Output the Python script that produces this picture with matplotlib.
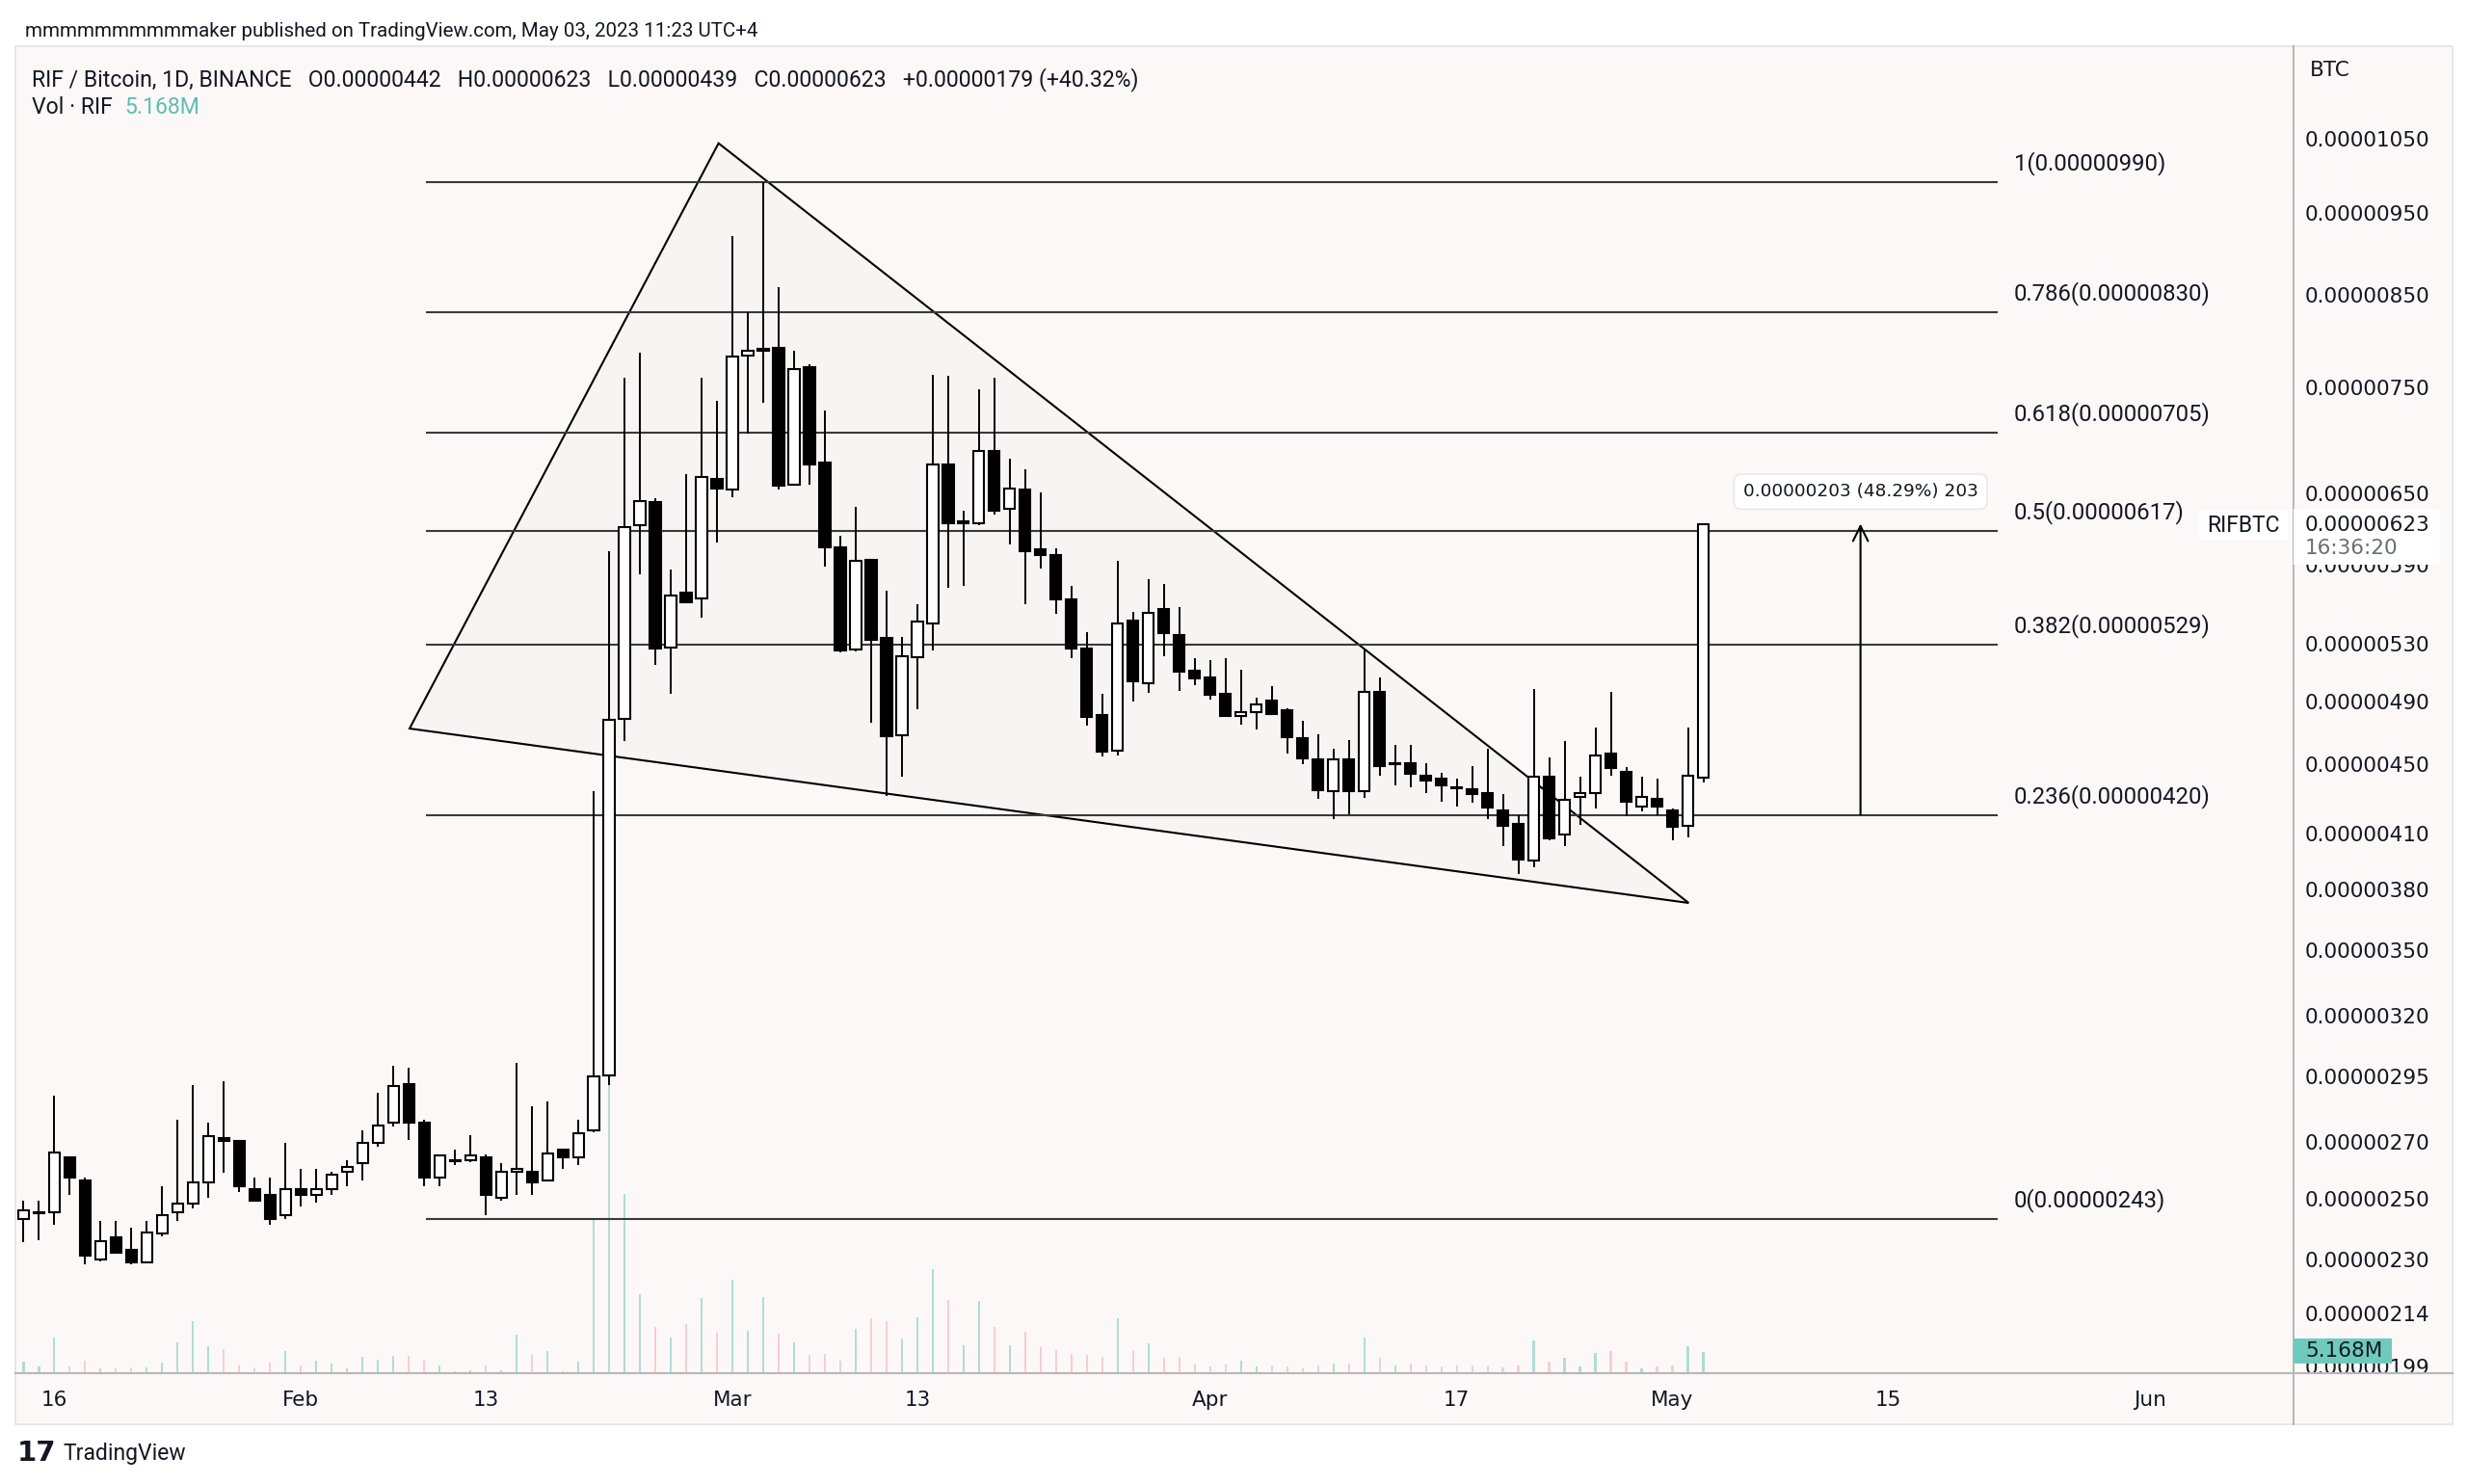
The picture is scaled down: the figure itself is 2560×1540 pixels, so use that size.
import numpy as np
import matplotlib
matplotlib.use("Agg")
import matplotlib.pyplot as plt
from matplotlib.patches import Rectangle, Polygon
from matplotlib.lines import Line2D
from matplotlib.ticker import NullLocator

W, H = 2560, 1540
SAT = 1e-8  # prices below are in satoshi

# daily candles RIF/BTC, 2023-01-14 .. 2023-05-03
opens = [243.1, 245.0, 245.2, 264.1, 256.1, 230.0, 237.0, 233.0, 229.1, 238.3,
         245.2, 248.1, 255.4, 271.3, 270.1, 253.0, 251.0, 244.3, 253.0, 251.0,
         253.0, 259.1, 262.1, 269.4, 277.1, 292.0, 276.9, 257.2, 263.0, 263.3,
         264.1, 250.1, 259.1, 259.1, 256.1, 267.0, 264.4, 274.0, 295.3, 478.8,
         622.5, 642.4, 527.2, 567.9, 563.2, 662.8, 652.9, 782.6, 788.5, 791.6,
         657.1, 770.9, 677.0, 603.6, 525.8, 593.5, 534.4, 468.3, 520.2, 544.3,
         675.9, 624.0, 623.5, 688.0, 636.1, 652.9, 602.0, 597.5, 562.9, 526.7,
         480.9, 458.2, 546.7, 502.3, 555.2, 536.0, 511.1, 506.0, 495.1, 480.3,
         482.8, 490.5, 484.1, 466.3, 452.9, 434.0, 452.9, 434.0, 496.3, 450.0,
         450.9, 443.1, 441.2, 436.5, 434.9, 433.0, 423.0, 415.1, 394.9, 442.5,
         409.4, 430.4, 432.7, 456.8, 445.6, 425.2, 429.3, 423.0, 414.2, 442.0]
highs = [249.1, 249.1, 287.2, 264.5, 257.0, 242.3, 242.3, 240.2, 242.3, 254.1,
         278.1, 291.4, 277.0, 293.0, 270.3, 257.0, 257.0, 269.5, 260.2, 260.2,
         259.1, 263.1, 274.0, 288.3, 299.1, 298.2, 278.1, 265.3, 267.0, 272.3,
         265.2, 262.2, 300.2, 283.1, 285.0, 267.2, 278.1, 434.0, 600.6, 759.7,
         785.6, 645.5, 585.9, 667.2, 759.7, 736.3, 920.1, 830.0, 990.0, 859.5,
         787.8, 773.5, 726.4, 613.2, 637.9, 594.0, 569.3, 535.0, 558.7, 762.6,
         761.3, 634.5, 748.3, 759.7, 680.6, 671.5, 650.8, 602.8, 572.8, 538.3,
         495.1, 592.6, 553.2, 578.3, 574.6, 556.8, 519.8, 518.3, 519.8, 511.5,
         492.6, 500.5, 485.6, 477.2, 468.9, 459.8, 464.9, 526.3, 506.0, 461.8,
         461.8, 450.9, 445.0, 441.2, 449.0, 459.8, 432.3, 419.8, 498.4, 454.3,
         464.3, 442.5, 473.0, 496.3, 448.4, 442.5, 441.2, 424.0, 473.0, 623.0]
lows = [235.5, 236.3, 241.3, 251.3, 228.5, 229.6, 231.8, 228.5, 228.8, 237.3,
        242.3, 246.5, 250.3, 258.7, 252.3, 248.8, 241.3, 243.1, 247.3, 248.4,
        251.3, 254.1, 256.1, 268.2, 275.4, 270.4, 254.1, 254.1, 261.4, 262.5,
        244.3, 249.1, 251.3, 251.3, 255.8, 260.2, 261.4, 273.5, 291.5, 464.7,
        581.8, 514.6, 495.4, 559.5, 549.1, 607.6, 646.5, 704.3, 734.2, 652.9,
        656.0, 657.1, 588.2, 523.5, 524.5, 476.2, 431.3, 442.5, 484.8, 525.0,
        571.5, 573.4, 622.0, 631.0, 605.9, 558.7, 586.5, 551.6, 519.8, 474.5,
        454.9, 455.4, 489.8, 495.6, 521.2, 497.3, 501.2, 491.5, 479.9, 475.1,
        471.6, 481.5, 456.5, 450.3, 429.5, 417.9, 420.6, 429.9, 443.1, 437.4,
        436.4, 432.7, 427.6, 425.2, 427.4, 417.9, 402.7, 388.0, 391.4, 406.2,
        402.7, 414.6, 423.7, 443.1, 419.3, 422.4, 420.0, 406.2, 407.5, 439.0]
closes = [246.1, 245.4, 265.9, 257.0, 231.2, 236.0, 232.1, 229.1, 238.8, 244.3,
          248.1, 255.4, 272.1, 270.1, 254.1, 249.1, 243.1, 253.0, 251.0, 253.0,
          258.3, 261.0, 269.4, 276.0, 291.2, 277.0, 257.0, 265.1, 263.3, 265.1,
          251.0, 259.1, 260.2, 255.4, 265.8, 264.1, 273.0, 295.0, 478.2, 620.8,
          643.1, 526.4, 565.6, 560.2, 664.3, 653.6, 782.3, 788.2, 790.5, 656.0,
          768.8, 675.9, 603.6, 525.0, 592.9, 532.7, 467.3, 520.7, 546.1, 675.9,
          623.5, 625.5, 688.0, 634.4, 653.6, 600.3, 597.7, 562.9, 526.3, 479.7,
          457.8, 544.8, 503.4, 552.7, 537.4, 510.0, 505.6, 494.7, 480.7, 482.8,
          488.1, 481.9, 466.9, 453.8, 434.5, 452.9, 434.0, 496.3, 449.0, 451.0,
          444.1, 440.2, 437.4, 435.5, 432.3, 424.3, 414.2, 395.7, 442.7, 407.1,
          428.9, 433.0, 455.5, 447.6, 428.0, 430.8, 425.2, 413.3, 443.1, 623.0]
volumes_m = [2.75, 1.57, 8.62, 1.71, 3.12, 1.17, 1.17, 1.41, 1.41, 2.51,
             7.45, 12.68, 6.65, 5.87, 1.95, 1.17, 2.51, 5.33, 1.95, 3.12,
             2.35, 1.17, 4.06, 3.29, 4.30, 4.30, 3.29, 1.95, 0.40, 0.78,
             1.95, 0.78, 9.40, 4.53, 5.40, 0.54, 2.75, 37.3, 70.5, 43.7,
             19.3, 11.3, 8.7, 12.0, 18.3, 9.9, 22.8, 10.3, 18.6, 9.6,
             7.5, 4.5, 4.7, 3.1, 10.8, 13.4, 12.7, 8.5, 13.6, 25.4,
             17.9, 6.8, 17.6, 11.3, 6.8, 10.1, 6.3, 5.6, 4.7, 4.5,
             4.0, 13.4, 5.4, 7.3, 3.8, 4.0, 2.1, 1.6, 2.1, 3.1,
             1.6, 1.9, 1.6, 1.2, 1.9, 2.3, 2.3, 8.7, 3.8, 1.9,
             2.3, 1.9, 1.6, 1.9, 1.9, 1.9, 1.4, 1.9, 8.0, 2.8,
             3.8, 1.6, 4.9, 5.4, 2.8, 1.2, 1.6, 1.9, 6.6, 5.168]

# fib retracement drawing
fib_ratios = ["1", "0.786", "0.618", "0.5", "0.382", "0.236", "0"]
fib_prices = [990, 830, 705, 617, 529, 420, 243]
fib_start, fib_end = 26.1, 128.1

# triangle drawing (day index, price)
tri_days = [25.05, 45.1, 108.05]
tri_prices = [472.4, 1043.8, 373.0]

# price range measure
measure_day = 119.2
measure_from, measure_to = 420.4, 623.4

price_ticks = [1050, 950, 850, 750, 650, 590, 530, 490, 450, 410, 380, 350,
               320, 295, 270, 250, 230, 214, 199]
date_ticks = [2, 18, 30, 46, 58, 77, 93, 107, 121, 138]
date_labels = ["16", "Feb", "13", "Mar", "13", "Apr", "17", "May", "15", "Jun"]

BG = "#fdf8f8"
TXT = "#131722"
TEAL = "#b0ddd6"
PINK = "#f6cdd3"


def fx(px):
    return px / W


def fy(py):
    return 1 - py / H


fig = plt.figure(figsize=(W / 100, H / 100), dpi=100, facecolor="white")
fig.patches.append(Rectangle((fx(16), fy(1478)), fx(2545) - fx(16), fy(48) - fy(1478),
                             transform=fig.transFigure, facecolor=BG,
                             edgecolor="#e4e4e8", lw=1.2, zorder=0))

rect = [fx(16), fy(1425), fx(2380) - fx(16), fy(48) - fy(1425)]
ax_vol = fig.add_axes(rect, zorder=1)
ax = fig.add_axes(rect, zorder=2)
ax.set_facecolor("none")
ax_vol.set_facecolor("none")

x = np.arange(len(opens))
xlim = (-0.525, 147.3)

# volume overlay
vol_colors = [TEAL if c >= o else PINK for o, c in zip(opens, closes)]
ax_vol.bar(x, volumes_m, width=0.14, color=vol_colors)
ax_vol.set_xlim(*xlim)
ax_vol.set_ylim(0, 323.5)
ax_vol.axis("off")

ax.set_yscale("log")
ax.set_xlim(*xlim)
ax.set_ylim(197.27 * SAT, 1190.4 * SAT)

# triangle
tri = Polygon(list(zip(tri_days, [p * SAT for p in tri_prices])), closed=True,
              facecolor=(0, 0, 0, 0.016), edgecolor="black", lw=1.5, zorder=1.5)
ax.add_patch(tri)

# fib levels
for r, p in zip(fib_ratios, fib_prices):
    ax.hlines(p * SAT, fib_start, fib_end, color="#3a3a3a", lw=1.5, zorder=2)
    ax.annotate(f"{r}({p * SAT:.8f})", xy=(fib_end, p * SAT), xytext=(12, 14),
                textcoords="offset points", va="center", ha="left",
                fontsize=17.2, family="Roboto", color=TXT)

# candles
body_w = 0.7
for i in range(len(opens)):
    o, h, l, c = opens[i] * SAT, highs[i] * SAT, lows[i] * SAT, closes[i] * SAT
    ax.vlines(i, l, h, color="black", lw=1.4, zorder=3)
    up = c >= o
    ax.add_patch(Rectangle((i - body_w / 2, min(o, c)), body_w, abs(c - o),
                           facecolor="white" if up else "black",
                           edgecolor="black", lw=1.5, zorder=4))

# measure arrow and label
ax.annotate("", xy=(measure_day, measure_to * SAT), xytext=(measure_day, measure_from * SAT),
            arrowprops=dict(arrowstyle="->", color="black", lw=1.5,
                            mutation_scale=28, shrinkA=0, shrinkB=0), zorder=5)
diff = measure_to - measure_from
ax.annotate(f"{diff * SAT:.8f} ({diff / measure_from * 100:.2f}%) {diff:.0f}",
            xy=(measure_day, measure_to * SAT), xytext=(0, 24), textcoords="offset points",
            ha="center", va="center", fontsize=13.3, color=TXT, zorder=6,
            bbox=dict(boxstyle="round,pad=0.5,rounding_size=0.4", fc="white",
                      ec="#e6e6e6", lw=1))

# axes styling
for s in ax.spines.values():
    s.set_visible(False)
ax.yaxis.tick_right()
ax.set_yticks([t * SAT for t in price_ticks])
ax.set_yticklabels([f"{t * SAT:.8f}" for t in price_ticks])
ax.yaxis.set_minor_locator(NullLocator())
ax.tick_params(axis="y", length=0, pad=8.6, labelsize=15.5, labelcolor=TXT)
ax.set_xticks(date_ticks)
ax.set_xticklabels(date_labels)
ax.tick_params(axis="x", length=0, pad=13, labelsize=15.5, labelcolor=TXT)

# pane separators
fig.add_artist(Line2D([fx(2380), fx(2380)], [fy(48), fy(1478)], transform=fig.transFigure,
                      color="#b7b7b7", lw=1.5, zorder=2.5))
fig.add_artist(Line2D([fx(16), fx(2545)], [fy(1425), fy(1425)], transform=fig.transFigure,
                      color="#b7b7b7", lw=1.5, zorder=2.5))

# header and legend
fig.text(fx(26), fy(33), "mmmmmmmmmmaker published on TradingView.com, May 03, 2023 11:23 UTC+4",
         fontsize=14.8, family="Roboto", color=TXT, va="center")
fig.text(fx(33), fy(83), "RIF / Bitcoin, 1D, BINANCE   O0.00000442   H0.00000623   "
         "L0.00000439   C0.00000623   +0.00000179 (+40.32%)",
         fontsize=16.6, family="Roboto", color=TXT, va="center")
fig.text(fx(33), fy(112), "Vol · RIF", fontsize=16.6, family="Roboto", color=TXT, va="center")
fig.text(fx(129), fy(112), "5.168M", fontsize=16.6, family="Roboto", color="#5cbfb2", va="center")
fig.text(fx(2397), fy(73), "BTC", fontsize=15.5, color=TXT, va="center")

# last price and symbol labels
fig.patches.append(Rectangle((fx(2380), fy(586)), fx(2532) - fx(2380), fy(528) - fy(586),
                             transform=fig.transFigure, facecolor="white", edgecolor="none", zorder=3))
fig.text(fx(2392), fy(545), f"{closes[-1] * SAT:.8f}", fontsize=15.5, color=TXT, va="center", zorder=4)
fig.text(fx(2392), fy(569), "16:36:20", fontsize=15.5, color="#6a6d78", va="center", zorder=4)
fig.patches.append(Rectangle((fx(2282), fy(560)), fx(2374) - fx(2282), fy(529) - fy(560),
                             transform=fig.transFigure, facecolor="white", edgecolor="none", zorder=3))
fig.text(fx(2328), fy(545), "RIFBTC", fontsize=16.5, family="Roboto", color=TXT,
         ha="center", va="center", zorder=4)
fig.patches.append(Rectangle((fx(2380), fy(1415)), fx(2482) - fx(2380), fy(1389) - fy(1415),
                             transform=fig.transFigure, facecolor="#6fcabe", edgecolor="none", zorder=3))
fig.text(fx(2392), fy(1402), f"{volumes_m[-1]:.3f}M", fontsize=15.5, color=TXT, va="center", zorder=4)

# footer logo
fig.text(fx(18), fy(1508), "17", fontsize=21, fontweight="heavy", color=TXT, va="center")
fig.text(fx(65), fy(1508), "TradingView", fontsize=16.5, family="Roboto", color=TXT, va="center")

fig.savefig("out.png", dpi=100, facecolor="white")
